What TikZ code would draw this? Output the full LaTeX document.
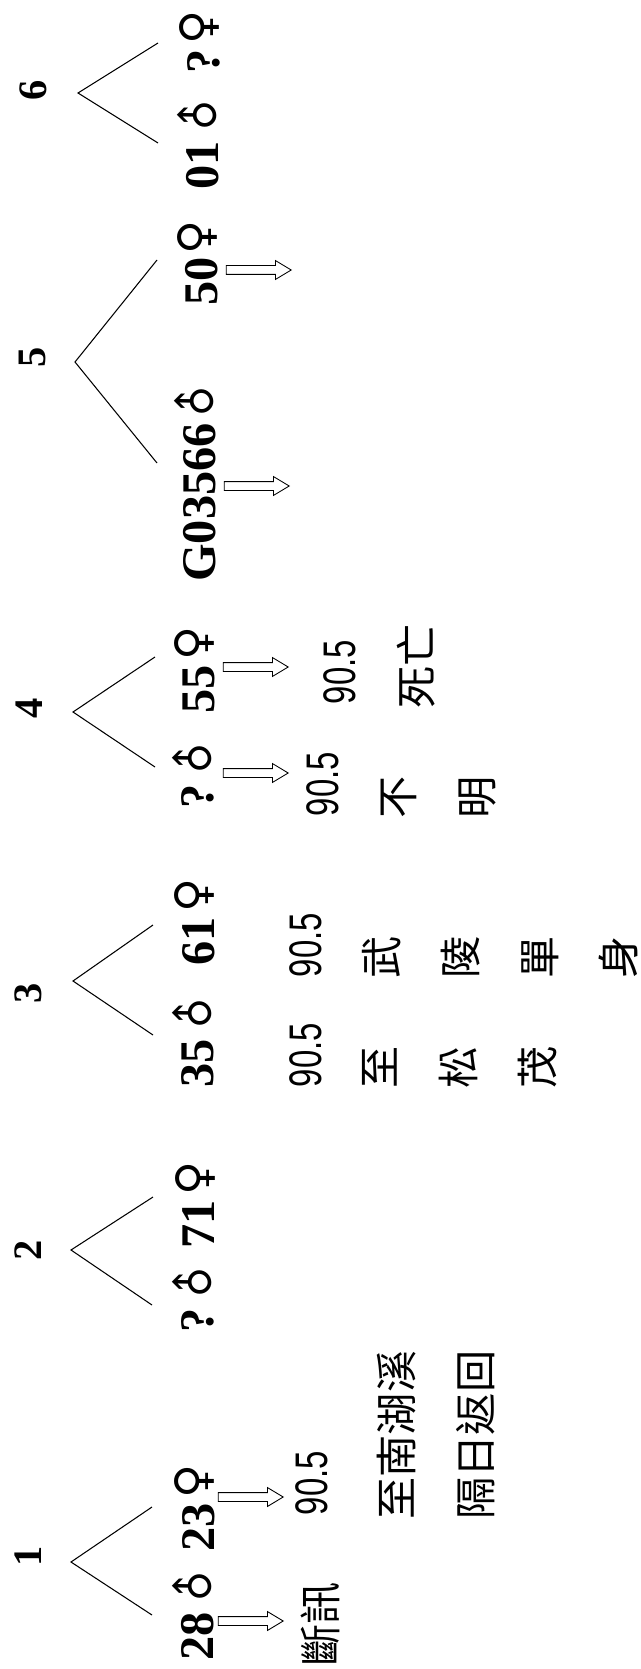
\documentclass[tikz,border=0pt]{standalone}
\usepackage{fontspec}
\usepackage{graphicx}
\setmainfont{Liberation Serif}
\newfontfamily\numfont[FakeStretch=0.72]{Liberation Sans}
\newfontfamily\cjk{Noto Sans CJK TC}
\newfontfamily\symfont{DejaVu Sans}
\usetikzlibrary{shapes.arrows}

\newcommand{\malesym}{\makebox[0.62cm]{\raisebox{2pt}{\fontsize{24}{24}\selectfont\symfont\mdseries\rotatebox[origin=c]{45}{♂}}}}
\newcommand{\femsym}{\raisebox{\depth}{\resizebox{!}{0.68cm}{\symfont\mdseries ♀}}}

\tikzset{
  fam/.style={rotate=90, inner sep=0pt, font=\fontsize{23}{25}\selectfont\bfseries},
  person/.style={rotate=90, inner sep=0pt, font=\fontsize{27.5}{30}\selectfont\bfseries},
  age/.style={rotate=90, inner sep=0pt, font=\fontsize{26}{28}\selectfont\numfont},
  note/.style={rotate=90, inner sep=0pt, align=center, font=\fontsize{24}{45}\selectfont\cjk},
  hollow/.style={single arrow, draw, line width=0.5pt, inner xsep=0pt, inner ysep=0.08cm,
    minimum height=1.3cm, single arrow head extend=0.1cm, single arrow tip angle=62},
}

\begin{document}
\begin{tikzpicture}[x=0.02cm, y=-0.02cm]
  \useasboundingbox (0,0) rectangle (641,1669);

  % family numbers
  \node[fam] (Fam1) at (28,1556) {1};
  \node[fam] (Fam2) at (28,1250) {2};
  \node[fam] (Fam3) at (28,993) {3};
  \node[fam] (Fam4) at (29,708) {4};
  \node[fam] (Fam5) at (32,357) {5};
  \node[fam] (Fam6) at (33,90) {6};

  % wedges
  \coordinate (Apex1) at (71,1562);  \coordinate (Up1) at (152,1507); \coordinate (Low1) at (152,1615);
  \coordinate (Apex2) at (71,1250);  \coordinate (Up2) at (153,1197); \coordinate (Low2) at (152,1305);
  \coordinate (Apex3) at (73,981);   \coordinate (Up3) at (153,925);  \coordinate (Low3) at (153,1035);
  \coordinate (Apex4) at (73,712);   \coordinate (Up4) at (155,657);  \coordinate (Low4) at (155,767);
  \coordinate (Apex5) at (75,362);   \coordinate (Up5) at (157,260);  \coordinate (Low5) at (157,463);
  \coordinate (Apex6) at (78,93);    \coordinate (Up6) at (158,43);   \coordinate (Low6) at (158,143);

  \foreach \f in {1,...,6}{%
    \draw[line width=0.6pt] (Up\f) -- (Apex\f) -- (Low\f);
  }

  % couples
  \node[person] (Hus1) at (195,1616) {28\hspace{0.2cm}\malesym};
  \node[person] (Wif1) at (195,1508) {23\hspace{0.1cm}\femsym};
  \node[person] (Hus2) at (195,1300) {?\hspace{0.2cm}\malesym};
  \node[person] (Wif2) at (195,1205) {71\hspace{0.1cm}\femsym};
  \node[person] (Hus3) at (195,1043) {35\hspace{0.2cm}\malesym};
  \node[person] (Wif3) at (195,922) {61\hspace{0.1cm}\femsym};
  \node[person] (Hus4) at (195,776) {?\hspace{0.2cm}\malesym};
  \node[person] (Wif4) at (195,670) {55\hspace{0.1cm}\femsym};
  \node[person] (Hus5) at (197,484) {G03566\hspace{0.12cm}\malesym};
  \node[person] (Wif5) at (198,263) {50\hspace{0.06cm}\femsym};
  \node[person] (Hus6) at (200,145) {01\hspace{0.2cm}\malesym};
  \node[person] (Wif6) at (200,42) {?\hspace{0.1cm}\femsym};

  % hollow arrows
  \node[hollow] (Arr1m) at (247,1621) {};
  \node[hollow] (Arr1f) at (247,1497) {};
  \node[hollow] (Arr4m) at (252,773) {};
  \node[hollow] (Arr4f) at (252,667) {};
  \node[hollow] (Arr5m) at (253,486) {};
  \node[hollow] (Arr5f) at (255,270) {};

  % dates and notes
  \node[age] (Age1) at (312,1483) {90.5};
  \node[age] (Age3m) at (306,1055) {90.5};
  \node[age] (Age3f) at (306,945) {90.5};
  \node[age] (Age4m) at (323,784) {90.5};
  \node[age] (Age4f) at (340,672) {90.5};

  \node[note] (Note1m) at (320,1624) {斷訊};
  \node[note] (Note1f) at (436,1435) {至南湖溪\\隔日返回};
  \node[note] (Note3m) at (460,1067) {至\\松\\茂};
  \node[note] (Note3f) at (500,957) {武\\陵\\單\\身};
  \node[note] (Note4m) at (439,797) {不\\明};
  \node[note] (Note4f) at (416,666) {死亡};
\end{tikzpicture}
\end{document}
